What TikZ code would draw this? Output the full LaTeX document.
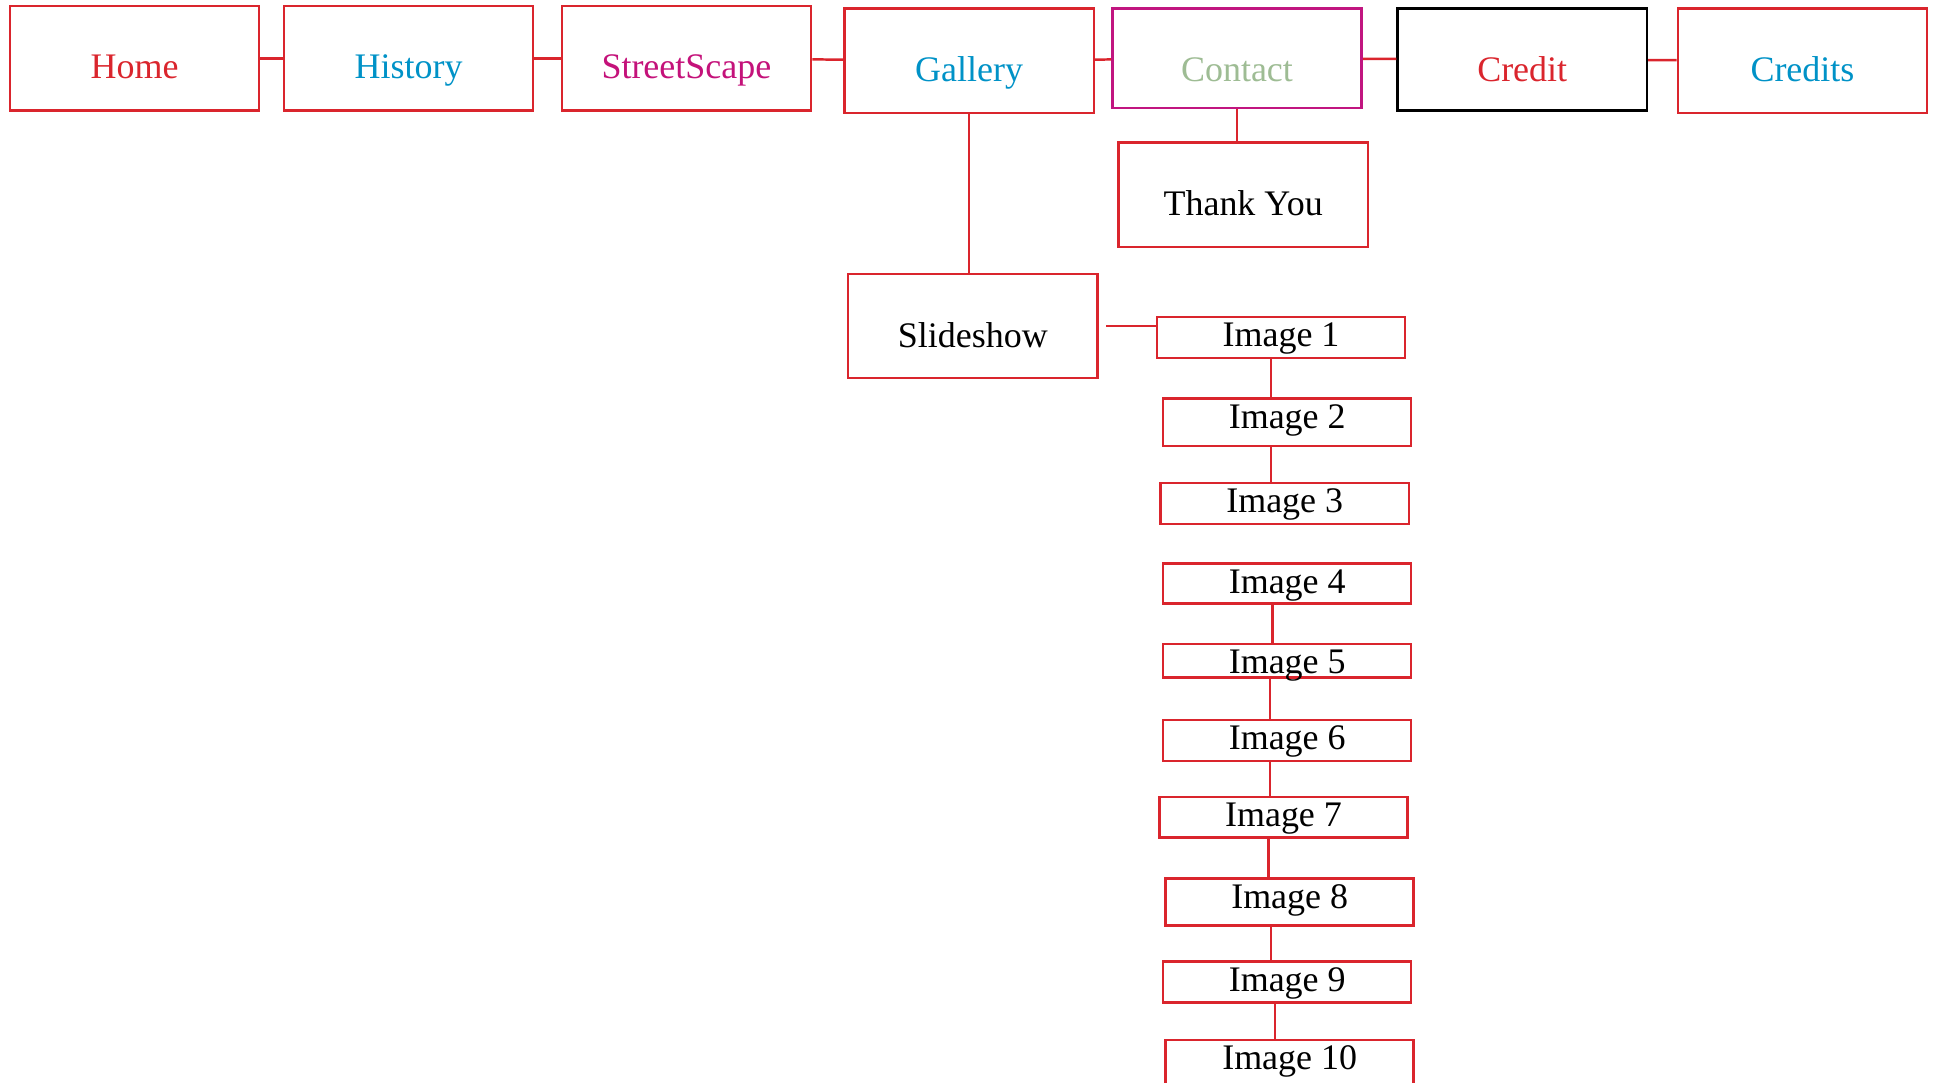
\documentclass[tikz,border=0pt]{standalone}
\usepackage{fontspec}
\setmainfont{Liberation Serif}
\usetikzlibrary{positioning}
\definecolor{boxred}{RGB}{218,37,45}
\definecolor{pageblue}{RGB}{0,146,199}
\definecolor{pagemagenta}{RGB}{196,18,122}
\definecolor{pagegreen}{RGB}{158,188,148}
\definecolor{contactborder}{RGB}{193,21,128}
\begin{document}
\begin{tikzpicture}[-,auto,page node/.style={rectangle,draw=boxred,line width=1pt,minimum width=100.5pt,inner sep=0pt,text height=29.5pt,text depth=12.5pt,font=\fontsize{14.5}{17}\selectfont},image node/.style={page node,minimum width=100pt,text height=12pt,text depth=4.5pt},link/.style={draw=boxred,line width=1pt}]
                        \useasboundingbox (0,0) rectangle (781pt,-436.5pt);

                        \node[page node, text=boxred, text height=29pt, text depth=13pt] (home) at (54.25pt,-23.5pt) {Home};
                        \node[page node, text=pageblue, text height=29pt, text depth=13pt] (history) [right=9pt of home]{History};
                        \node[page node, text=pagemagenta, text height=29pt, text depth=13pt] (street) [right=10.5pt of history]{StreetScape};
                        \node[page node, text=pageblue, text height=29.5pt, text depth=12.5pt] (gallery) [right=12.5pt of street, yshift=-1pt]{Gallery};
                        \node[page node, text=pagegreen, draw=contactborder, text height=29.5pt, text depth=10.5pt] (contact) [right=6.5pt of gallery, yshift=1pt]{Contact};
                        \node[page node, text=boxred, draw=black, text height=29.5pt, text depth=11.5pt] (credit) [right=13.5pt of contact, yshift=-0.5pt]{Credit};
                        \node[page node, text=pageblue, text height=29.5pt, text depth=12.5pt] (credits) [right=11.5pt of credit, yshift=-0.5pt]{Credits};

                        \node[page node] (thanks) [below=13pt of contact, xshift=2.5pt]{Thank You};
                        \node[page node] (slideshow) [below=64pt of gallery, xshift=1.5pt]{Slideshow};

                        \node[image node] (img1) [right=23pt of slideshow, yshift=-4.5pt]{Image 1};
                        \node[image node, text depth=7pt] (img2) [below=15.5pt of img1, xshift=2.5pt]{Image 2};
                        \node[image node] (img3) [below=14pt of img2, xshift=-1pt]{Image 3};
                        \node[image node, text depth=4pt] (img4) [below=15pt of img3, xshift=1pt]{Image 4};
                        \node[image node, text depth=1.5pt] (img5) [below=15.5pt of img4]{Image 5};
                        \node[image node] (img6) [below=16pt of img5]{Image 6};
                        \node[image node] (img7) [below=13.5pt of img6, xshift=-1.5pt]{Image 7};
                        \node[image node, text depth=7pt] (img8) [below=15.5pt of img7, xshift=2.5pt]{Image 8};
                        \node[image node] (img9) [below=13.5pt of img8, xshift=-1pt]{Image 9};
                        \node[image node, text depth=7pt] (img10) [below=14pt of img9, xshift=1pt]{Image 10};

                        \path[link]
                                (home) edge (history)
                                (history) edge (street)
                                (street) edge (gallery)
                                (gallery) edge (contact)
                                (contact) edge (credit)
                                (credit) edge (credits)
                            ;

                        \draw[link] (gallery.south) -- (gallery.south |- slideshow.north);
                        \draw[link] (contact.south) -- (contact.south |- thanks.north);
                        \draw[link] ([xshift=3pt]slideshow.east) -- (slideshow.east -| img1.west);

                        \foreach \a/\b/\x in {1/2/512.5,2/3/512.5,4/5/513,5/6/512,6/7/512,7/8/511.5,8/9/512.5,9/10/514}
                                \draw[link] (\x pt,0 |- img\a.south) -- (\x pt,0 |- img\b.north);
                    \end{tikzpicture}
\end{document}
